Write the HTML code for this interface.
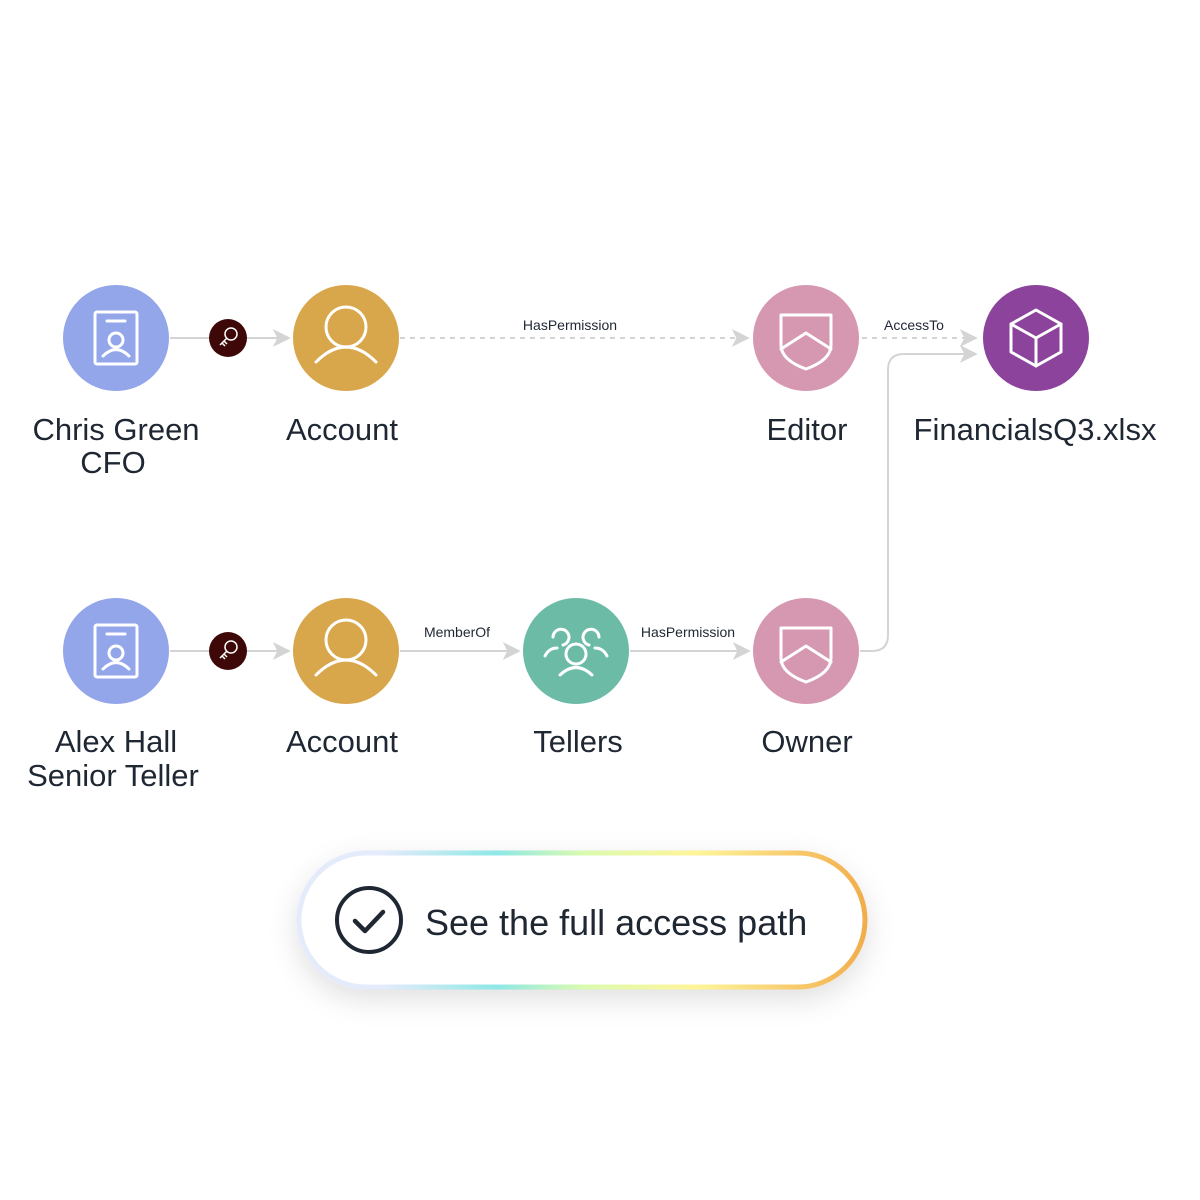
<!DOCTYPE html>
<html><head><meta charset="utf-8"><style>
html,body{margin:0;padding:0;background:#fff;width:1200px;height:1200px;overflow:hidden}
text{font-family:"Liberation Sans",sans-serif;fill:#1f2733}
</style></head><body>
<svg width="1200" height="1200" viewBox="0 0 1200 1200" xmlns="http://www.w3.org/2000/svg">
<defs>
<marker id="ar" viewBox="0 0 10 10" refX="9" refY="5" markerWidth="18" markerHeight="18" markerUnits="userSpaceOnUse" orient="auto">
<path d="M0,0 L10,5 L0,10 L2.5,5 z" fill="#d4d4d4"/></marker>
<linearGradient id="bg" x1="0" y1="0" x2="1" y2="0">
<stop offset="0" stop-color="#e4ebfb"/><stop offset="0.15" stop-color="#e4ebfb"/><stop offset="0.35" stop-color="#8ee8e6"/><stop offset="0.5" stop-color="#d9fbb0"/><stop offset="0.7" stop-color="#fff59a"/><stop offset="1" stop-color="#f2ad4c"/></linearGradient>
<filter id="sh" x="-20%" y="-40%" width="140%" height="180%"><feDropShadow dx="0" dy="10" stdDeviation="14" flood-color="#000" flood-opacity="0.12"/></filter>
</defs>
<g stroke="#d4d4d4" stroke-width="2" fill="none">
<line x1="170" y1="338" x2="289" y2="338" marker-end="url(#ar)"/>
<line x1="400" y1="338" x2="748" y2="338" stroke-dasharray="5,5" marker-end="url(#ar)"/>
<line x1="862" y1="338" x2="976" y2="338" stroke-dasharray="5,5" marker-end="url(#ar)"/>
<line x1="170" y1="651" x2="289" y2="651" marker-end="url(#ar)"/>
<line x1="400" y1="651" x2="519" y2="651" marker-end="url(#ar)"/>
<line x1="630" y1="651" x2="749" y2="651" marker-end="url(#ar)"/>
<path d="M860,651 H872 Q888,651 888,635 V370 Q888,354 904,354 H976" marker-end="url(#ar)"/>
</g>
<g font-size="14" text-anchor="middle">
<text x="570" y="330">HasPermission</text>
<text x="914" y="330">AccessTo</text>
<text x="457" y="637">MemberOf</text>
<text x="688" y="637">HasPermission</text>
</g>
<circle cx="116" cy="338" r="53" fill="#93a6ea"/>
<circle cx="346" cy="338" r="53" fill="#d9a74b"/>
<circle cx="806" cy="338" r="53" fill="#d698b1"/>
<circle cx="1036" cy="338" r="53" fill="#8b439c"/>
<circle cx="116" cy="651" r="53" fill="#93a6ea"/>
<circle cx="346" cy="651" r="53" fill="#d9a74b"/>
<circle cx="576" cy="651" r="53" fill="#6cbba6"/>
<circle cx="806" cy="651" r="53" fill="#d698b1"/>
<circle cx="228" cy="338" r="19" fill="#3f0808"/>
<circle cx="228" cy="651" r="19" fill="#3f0808"/>
<g fill="none" stroke="#fff" stroke-width="3" stroke-linecap="round" stroke-linejoin="round">
<g><rect x="95" y="312" width="42" height="52" rx="2"/><line x1="107" y1="321" x2="125" y2="321"/><circle cx="116" cy="340" r="7"/><path d="M103,356 Q116,343 129,356"/></g>
<g transform="translate(0,313)"><rect x="95" y="312" width="42" height="52" rx="2"/><line x1="107" y1="321" x2="125" y2="321"/><circle cx="116" cy="340" r="7"/><path d="M103,356 Q116,343 129,356"/></g>
<circle cx="346" cy="327" r="20"/><path d="M316,362 Q346,332 376,362"/>
<circle cx="346" cy="640" r="20"/><path d="M316,675 Q346,645 376,675"/>
<path d="M781,315 H831 V345 Q831,360 806,369 Q781,360 781,345 Z"/><path d="M781,349 L806,333 L831,349"/>
<path d="M781,628 H831 V658 Q831,673 806,682 Q781,673 781,658 Z"/><path d="M781,662 L806,646 L831,662"/>
<path d="M1036,310 L1061,324 V352 L1036,366 L1011,352 V324 Z"/><path d="M1011,324 L1036,338 L1061,324 M1036,338 V366"/>
<circle cx="576" cy="654" r="10"/><path d="M560,675 Q576,660 592,675"/>
<path d="M563,645 A8,8 0 1 0 553,637 M545,656 Q549,648 557,648"/>
<path d="M589,645 A8,8 0 1 1 599,637 M607,656 Q603,648 595,648"/>
</g>
<g fill="none" stroke="#fff" stroke-width="1.5">
<circle cx="231" cy="334" r="6"/><path d="M227,338 L220,345 M222,343 L225,346 M224,341 L227,344"/>
<circle cx="231" cy="647" r="6"/><path d="M227,651 L220,658 M222,656 L225,659 M224,654 L227,657"/>
</g>
<g font-size="31" text-anchor="middle">
<text x="116" y="440">Chris Green</text>
<text x="113" y="473">CFO</text>
<text x="342" y="440">Account</text>
<text x="807" y="440">Editor</text>
<text x="1035" y="440">FinancialsQ3.xlsx</text>
<text x="116" y="752">Alex Hall</text>
<text x="113" y="786">Senior Teller</text>
<text x="342" y="752">Account</text>
<text x="578" y="752">Tellers</text>
<text x="807" y="752">Owner</text>
</g>
<rect x="299" y="853" width="566" height="134" rx="67" fill="#fff" stroke="url(#bg)" stroke-width="5" filter="url(#sh)"/>
<circle cx="369" cy="920" r="32" fill="none" stroke="#1f2733" stroke-width="4"/>
<path d="M355,921 L365,931 L383,912" fill="none" stroke="#1f2733" stroke-width="4.5" stroke-linecap="round" stroke-linejoin="round"/>
<text x="425" y="935" font-size="36">See the full access path</text>
</svg>
</body></html>
